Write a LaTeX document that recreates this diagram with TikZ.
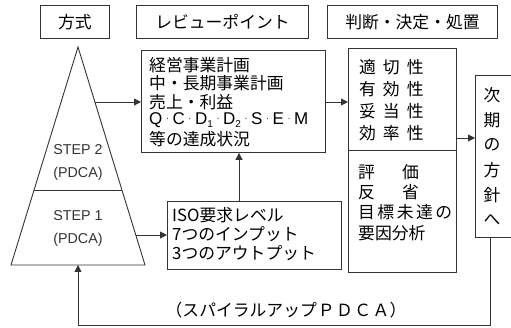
\documentclass[tikz,border=0pt]{standalone}
\usepackage{fontspec}
\setmainfont{Noto Sans CJK JP}
\newfontfamily\arialf{Liberation Sans}
\usetikzlibrary{arrows.meta,calc}
\definecolor{ln}{gray}{0.2}
\newcommand\jp{\fontsize{16.8}{18}\selectfont}
\newcommand\stepf{\arialf\fontsize{14.3}{15}\selectfont}
\newcommand\mydot{\kern3.6pt{\fontsize{9}{9}\selectfont\raisebox{3.6pt}{·}}\kern3.6pt}
\newcommand\mysub[1]{\raisebox{-2.5pt}{\fontsize{10}{10}\selectfont #1}}
\begin{document}
\begin{tikzpicture}[x=1pt,y=-1pt,
  box/.style={draw=ln, line width=0.9pt, inner sep=0, anchor=north west, font=\jp},
  txt/.style={inner sep=0, anchor=west, font=\jp},
  ctxt/.style={inner sep=0, anchor=center, font=\jp},
  steptxt/.style={inner sep=0, anchor=center, font=\stepf, text=black!80},
  ln/.style={draw=ln, line width=0.9pt},
  arr/.style={draw=ln, line width=0.9pt, -{Triangle[length=7pt,width=7pt]}}]
\useasboundingbox (0,0) rectangle (511,328);
\begin{scope}
\clip (0,0) rectangle (511,328);
% header boxes
\node[box, minimum width=69pt, minimum height=33.5pt] (h1) at (40,5) {方式};
\node[box, minimum width=172pt, minimum height=33.5pt] (h2) at (136,5) {レビューポイント};
\node[box, minimum width=170pt, minimum height=33.5pt] (h3) at (327,5) {判断・決定・処置};
% triangle
\coordinate (apex) at (78,47);
\coordinate (bl) at (11,265);
\coordinate (br) at (145,265);
\draw[ln, line join=miter] (apex) -- (bl) -- (br) -- cycle;
\coordinate (dl) at ($(apex)!0.656!(bl)$);
\coordinate (dr) at ($(apex)!0.656!(br)$);
\draw[ln] (dl) -- (dr);
\node[steptxt] (s2) at (78,150) {STEP 2};
\node[steptxt] (p2) at (78,174) {(PDCA)};
\node[steptxt] (s1) at (78,216) {STEP 1};
\node[steptxt] (p1) at (78,240) {(PDCA)};
\coordinate (t2) at ($(apex)!0.2523!(br)$);
\coordinate (t1) at ($(apex)!0.8624!(br)$);
\coordinate (tb) at (78,265);
% review box
\node[box, minimum width=184pt, minimum height=102pt] (R) at (141,50) {};
\node[txt] (r1) at (149,65) {経営事業計画};
\node[txt] (r2) at (149,83.5) {中・長期事業計画};
\node[txt] (r3) at (149,102) {売上・利益};
\node[txt, font=\arialf\fontsize{17}{18}\selectfont] (r4) at (149,120.5) {Q\mydot C\mydot D\mysub{1}\mydot D\mysub{2}\mydot S\mydot E\mydot M};
\node[txt] (r5) at (149,139) {等の達成状況};
% ISO box
\node[box, minimum width=174pt, minimum height=68pt] (I) at (167,201) {};
\node[txt] (i1) at (172,215) {ISO要求レベル};
\node[txt] (i2) at (172,234) {7つのインプット};
\node[txt] (i3) at (172,253) {3つのアウトプット};
% judgement box
\node[box, minimum width=108pt, minimum height=102pt] (J1) at (348,48) {};
\node[box, minimum width=108pt, minimum height=122pt] (J2) at (348,150) {};
\node[txt] (j1) at (359,67) {適\hspace{7pt}切\hspace{7pt}性};
\node[txt] (j2) at (359,89) {有\hspace{7pt}効\hspace{7pt}性};
\node[txt] (j3) at (359,111) {妥\hspace{7pt}当\hspace{7pt}性};
\node[txt] (j4) at (359,133) {効\hspace{7pt}率\hspace{7pt}性};
\node[txt] (k1) at (358,172) {評\hspace{27pt}価};
\node[txt] (k2) at (358,192) {反\hspace{27pt}省};
\node[txt] (k3) at (358,212.5) {目\kern2.5pt 標\kern2.5pt 未\kern2.5pt 達\kern2.5pt の};
\node[txt] (k4) at (358,233) {要因分析};
% next policy box
\node[box, minimum width=60pt, minimum height=162pt] (N) at (475,75) {};
\node[ctxt] (n1) at (492,95) {次};
\node[ctxt] (n2) at (492,120) {期};
\node[ctxt] (n3) at (492,145) {の};
\node[ctxt] (n4) at (492,170) {方};
\node[ctxt] (n5) at (492,195) {針};
\node[ctxt] (n6) at (492,220) {へ};
% connectors
\draw[arr] (t2) -- (t2 -| R.west);
\draw[arr] (t1) -- (t1 -| I.west);
\coordinate (isoup) at (239,201);
\draw[arr] (isoup) -- (isoup |- R.south);
\draw[arr] (R.east |- t2) -- (J1.west |- t2);
\coordinate (jn) at (456,138);
\draw[arr] (jn) -- (jn -| N.west);
\coordinate (nd) at (490,237);
\coordinate (fb) at (490,325);
\draw[arr] (nd) -- (fb) -- (fb -| tb) -- (tb);
\node[ctxt] (lab) at (286,310) {（スパイラルアップ\kern1pt Ｐ\kern1.5pt Ｄ\kern1.5pt Ｃ\kern1.5pt Ａ）};
\end{scope}
\end{tikzpicture}
\end{document}
